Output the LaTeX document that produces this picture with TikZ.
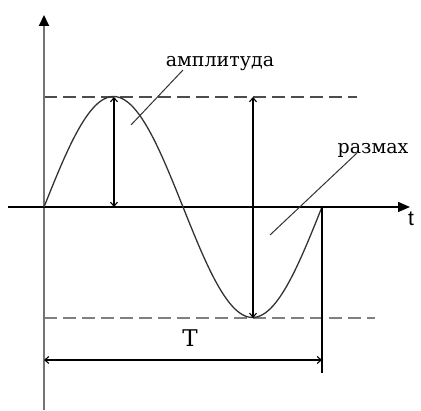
\documentclass[tikz,border=0pt]{standalone}
\usepackage{fontspec}
\setmainfont{DejaVu Serif}
\newfontfamily\seriffnt{DejaVu Serif}
\newfontfamily\sansfnt{Liberation Sans}
\usetikzlibrary{arrows.meta}
\begin{document}
\begin{tikzpicture}[x=1pt,y=-1pt,
  axis/.style={line width=1.4pt},
  dim/.style={line width=1.1pt,{Straight Barb[length=4pt,width=7pt]}-{Straight Barb[length=4pt,width=7pt]}},
  guide/.style={line width=1.5pt,dash pattern=on 13pt off 6pt},
  leader/.style={line width=1pt,black!80},
  lbl/.style={inner sep=0pt,font=\seriffnt\fontsize{19}{20}\selectfont}]
\useasboundingbox[fill=white] (0,0) rectangle (421,411);
% coordinates
\coordinate (O) at (44,207);
\coordinate (ytop) at (44,15);
\coordinate (ybot) at (44,410);
\coordinate (xl) at (8,207);
\coordinate (xr) at (410,207);
\coordinate (peak) at (114,97);
\coordinate (peakb) at (114,207);
\coordinate (trough) at (253,318);
\coordinate (troughtop) at (253,97);
\coordinate (tend) at (322,207);
\coordinate (tlow) at (322,373);
\coordinate (Tl) at (44,360);
\coordinate (Tr) at (322,360);
\coordinate (d1a) at (44,97);
\coordinate (d1b) at (357,97);
\coordinate (d2a) at (44,318);
\coordinate (d2b) at (375,318);
% dashed guides
\draw[guide,black!70] (d1a) -- (d1b);
\draw[guide,black!50] (d2a) -- (d2b);
% axes
\draw[axis,black!55,line width=2pt,-{Triangle[length=11pt,width=10pt,color=black]}] (ybot) -- (ytop);
\draw[axis,-{Triangle[length=12pt,width=10pt]}] (xl) -- (xr);
\node[inner sep=0pt,anchor=north west,font=\sansfnt\fontsize{21}{22}\selectfont] (tl) at (408,212) {t};
% sine
\draw[line width=1.3pt,black!80] plot[domain=44:322,samples=120,smooth] (\x,{207-110.5*sin((\x-44)*1.294964)});
% dimension arrows
\draw[dim] (peak) -- (peakb);
\draw[dim] (troughtop) -- (trough);
\draw[line width=1.1pt] (tend) -- (tlow);
\draw[dim] (Tl) -- (Tr);
\node[inner sep=0pt,font=\seriffnt\fontsize{23}{24}\selectfont] (T) at (190,338) {T};
% labels
\node[lbl] (amp) at (220,64) {амплитуда};
\node[lbl] (raz) at (373,150) {размах};
\coordinate (ampend) at (131,125);
\coordinate (razend) at (270,235);
\draw[leader] (183,70) -- (ampend);
\draw[leader] (357,153) -- (razend);
\end{tikzpicture}
\end{document}
